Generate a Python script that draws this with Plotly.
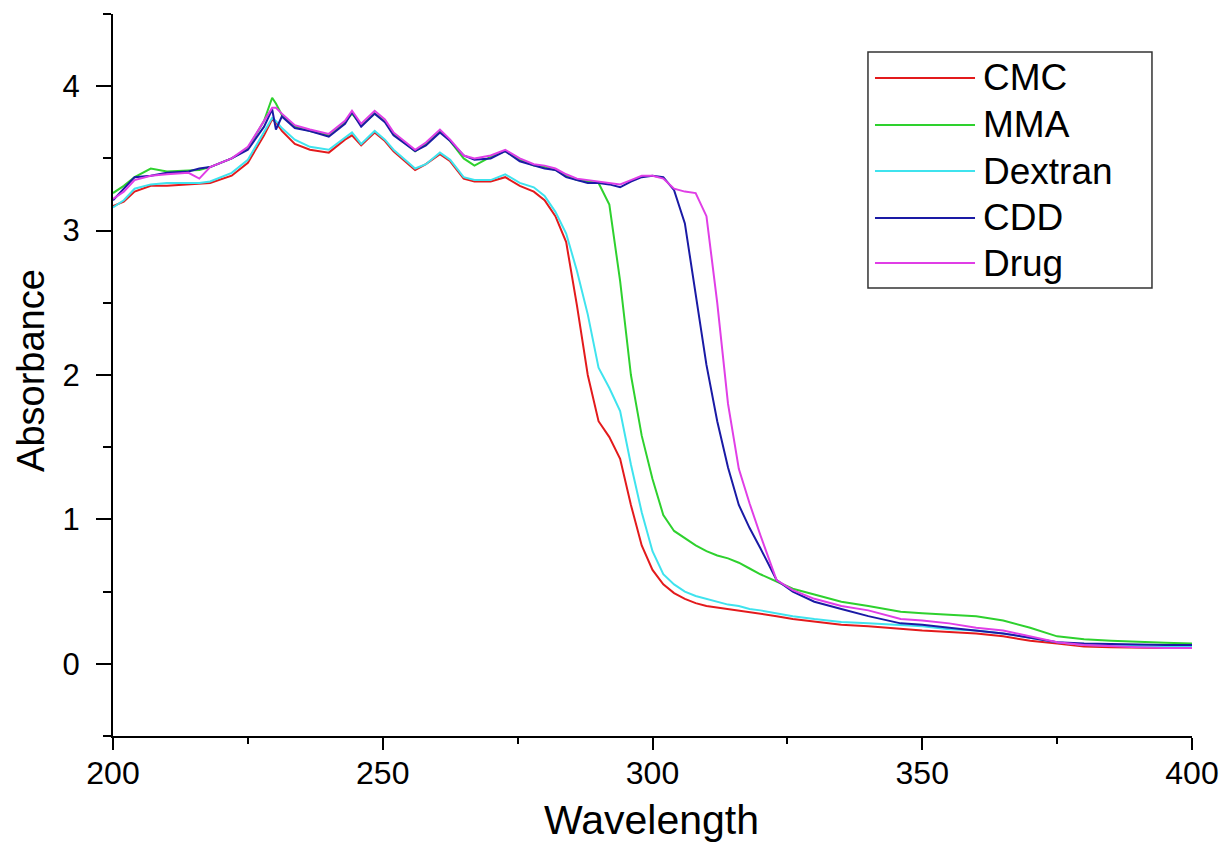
import plotly.graph_objects as go

# ---------------- data ----------------
wavelength = [200, 202, 204, 207, 210, 214, 216, 218, 222, 225,
              228, 229.5, 230.2, 231.3, 233.7, 236.5, 240, 243, 244.3, 246,
              248.5, 250.4, 252, 256, 258, 260.6, 262.5, 265, 267, 270,
              272.7, 275.4, 278, 280, 282, 284, 286, 288, 290, 292,
              294, 296, 298, 300, 302, 304, 306, 308, 310, 312,
              314, 316, 318, 320, 323, 326, 330, 335, 340, 346,
              350, 355, 360, 365, 370, 375, 380, 385, 390, 395,
              400]

cmc = [3.17, 3.20, 3.27, 3.31, 3.31, 3.32, 3.32, 3.33, 3.38, 3.47,
       3.66, 3.77, 3.75, 3.69, 3.60, 3.56, 3.54, 3.63, 3.66, 3.59,
       3.68, 3.62, 3.55, 3.42, 3.46, 3.53, 3.48, 3.36, 3.34, 3.34,
       3.37, 3.31, 3.27, 3.21, 3.10, 2.92, 2.48, 2.00, 1.68, 1.57,
       1.42, 1.10, 0.82, 0.65, 0.55, 0.49, 0.45, 0.42, 0.40, 0.39,
       0.38, 0.37, 0.36, 0.35, 0.33, 0.31, 0.29, 0.27, 0.26, 0.24,
       0.23, 0.22, 0.21, 0.19, 0.16, 0.14, 0.12, 0.115, 0.11, 0.11,
       0.11]

mma = [3.26, 3.31, 3.37, 3.43, 3.41, 3.42, 3.42, 3.44, 3.50, 3.57,
       3.76, 3.92, 3.88, 3.80, 3.72, 3.69, 3.66, 3.75, 3.81, 3.73,
       3.81, 3.76, 3.67, 3.55, 3.60, 3.69, 3.62, 3.50, 3.45, 3.51,
       3.55, 3.49, 3.45, 3.44, 3.42, 3.38, 3.35, 3.34, 3.33, 3.18,
       2.65, 2.00, 1.58, 1.28, 1.03, 0.92, 0.87, 0.82, 0.78, 0.75,
       0.73, 0.70, 0.66, 0.62, 0.57, 0.52, 0.48, 0.43, 0.40, 0.36,
       0.35, 0.34, 0.33, 0.30, 0.25, 0.19, 0.17, 0.16, 0.15, 0.145,
       0.14]

dextran = [3.16, 3.21, 3.29, 3.32, 3.33, 3.33, 3.33, 3.34, 3.40, 3.49,
           3.68, 3.78, 3.76, 3.71, 3.63, 3.58, 3.56, 3.64, 3.68, 3.60,
           3.69, 3.63, 3.56, 3.43, 3.46, 3.54, 3.49, 3.37, 3.35, 3.35,
           3.39, 3.33, 3.30, 3.24, 3.13, 2.98, 2.72, 2.42, 2.05, 1.91,
           1.75, 1.38, 1.05, 0.78, 0.62, 0.55, 0.50, 0.47, 0.45, 0.43,
           0.41, 0.40, 0.38, 0.37, 0.35, 0.33, 0.31, 0.29, 0.28, 0.27,
           0.26, 0.24, 0.23, 0.21, 0.18, 0.15, 0.13, 0.125, 0.12, 0.12,
           0.12]

cdd = [3.21, 3.29, 3.37, 3.38, 3.40, 3.41, 3.43, 3.44, 3.50, 3.56,
       3.72, 3.84, 3.70, 3.79, 3.71, 3.69, 3.65, 3.74, 3.82, 3.72,
       3.81, 3.75, 3.66, 3.55, 3.59, 3.68, 3.62, 3.52, 3.49, 3.50,
       3.55, 3.48, 3.45, 3.43, 3.42, 3.37, 3.35, 3.33, 3.33, 3.32,
       3.30, 3.34, 3.37, 3.38, 3.37, 3.28, 3.05, 2.55, 2.07, 1.68,
       1.36, 1.10, 0.94, 0.80, 0.58, 0.50, 0.43, 0.38, 0.33, 0.28,
       0.27, 0.25, 0.23, 0.21, 0.18, 0.15, 0.14, 0.135, 0.13, 0.13,
       0.13]

drug = [3.22, 3.27, 3.35, 3.38, 3.39, 3.40, 3.36, 3.44, 3.50, 3.58,
        3.76, 3.85, 3.85, 3.81, 3.73, 3.70, 3.67, 3.76, 3.83, 3.74,
        3.83, 3.77, 3.68, 3.56, 3.61, 3.70, 3.63, 3.52, 3.50, 3.52,
        3.56, 3.50, 3.46, 3.45, 3.43, 3.39, 3.36, 3.35, 3.34, 3.33,
        3.32, 3.35, 3.38, 3.38, 3.36, 3.29, 3.27, 3.26, 3.10, 2.50,
        1.80, 1.35, 1.11, 0.89, 0.58, 0.51, 0.45, 0.40, 0.37, 0.31,
        0.30, 0.28, 0.25, 0.23, 0.19, 0.15, 0.13, 0.12, 0.115, 0.11,
        0.11]

series_names = ["CMC", "MMA", "Dextran", "CDD", "Drug"]
series_values = [cmc, mma, dextran, cdd, drug]
series_colors = ["#e31a1c", "#2ed12e", "#3fe3ee", "#1a1aa5", "#e03ee6"]

x_ticks = [200, 250, 300, 350, 400]
y_ticks = [0, 1, 2, 3, 4]
x_title = "Wavelength"
y_title = "Absorbance"

FONT = "Liberation Sans, Arial, sans-serif"

fig = go.Figure()
for name, vals, col in zip(series_names, series_values, series_colors):
    fig.add_trace(go.Scatter(x=wavelength, y=vals, mode="lines", name=name,
                             line=dict(color=col, width=2),
                             showlegend=False))

# ---- manual legend (box, line samples, labels) ----
leg_x0, leg_x1, leg_y0, leg_y1 = 0.6997, 0.9629, 0.6205, 0.9474
row_y = [0.9114, 0.8463, 0.7825, 0.7175, 0.6551]
shapes = [dict(type="rect", xref="paper", yref="paper",
               x0=leg_x0, x1=leg_x1, y0=leg_y0, y1=leg_y1,
               line=dict(color="#333333", width=1.5), fillcolor="rgba(0,0,0,0)")]
annotations = []
for name, col, ry in zip(series_names, series_colors, row_y):
    shapes.append(dict(type="line", xref="paper", yref="paper",
                       x0=0.7062, x1=0.7989, y0=ry, y1=ry,
                       line=dict(color=col, width=2)))
    annotations.append(dict(xref="paper", yref="paper", x=0.804, y=ry,
                            xanchor="left", yanchor="middle", showarrow=False,
                            text=name, font=dict(family=FONT, size=37, color="black")))

# axis titles placed as annotations for exact positioning
annotations.append(dict(xref="paper", yref="paper", x=0.4995, y=-0.117,
                        xanchor="center", yanchor="middle", showarrow=False,
                        text=x_title, font=dict(family=FONT, size=41, color="black")))
annotations.append(dict(xref="paper", yref="paper", x=-0.076, y=0.507,
                        xanchor="center", yanchor="middle", showarrow=False,
                        textangle=-90,
                        text=y_title, font=dict(family=FONT, size=38, color="black")))

fig.update_layout(
    width=1226, height=850,
    margin=dict(l=113, r=34, t=14, b=114),
    plot_bgcolor="white", paper_bgcolor="white",
    font=dict(family=FONT, color="black"),
    shapes=shapes, annotations=annotations,
    xaxis=dict(range=[200, 400], tickvals=x_ticks, ticktext=[str(v) for v in x_ticks],
               automargin=False,
               showline=True, linecolor="black", linewidth=2,
               ticks="outside", ticklen=12, tickwidth=2, tickcolor="black",
               minor=dict(dtick=25, tick0=200, ticks="outside", ticklen=6,
                          tickwidth=2, tickcolor="black", showgrid=False),
               showgrid=False, zeroline=False,
               tickfont=dict(family=FONT, size=32, color="black"),
               ticklabelstandoff=-4),
    yaxis=dict(range=[-0.5, 4.5], tickvals=y_ticks, ticktext=[str(v) for v in y_ticks],
               automargin=False,
               showline=True, linecolor="black", linewidth=2,
               ticks="outside", ticklen=15, tickwidth=2, tickcolor="black",
               minor=dict(dtick=0.5, tick0=0, ticks="outside", ticklen=8,
                          tickwidth=2, tickcolor="black", showgrid=False),
               showgrid=False, zeroline=False,
               tickfont=dict(family=FONT, size=31, color="black"),
               ticklabelstandoff=10),
)

fig.write_html("out.html", config={"displayModeBar": False},
               post_script="document.body.style.margin='0';document.body.style.padding='0';")
